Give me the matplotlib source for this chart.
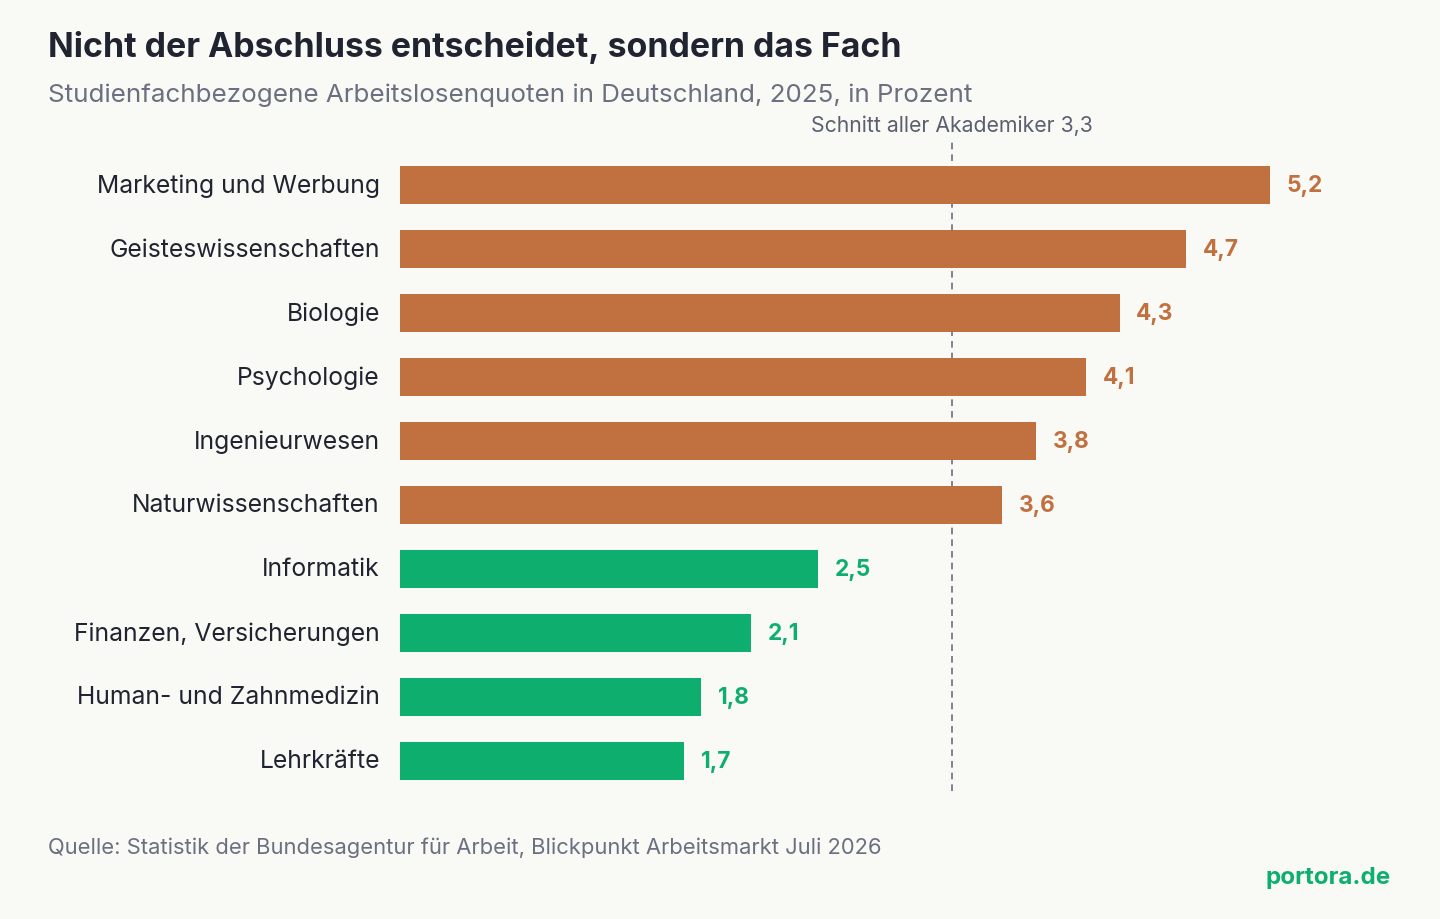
import matplotlib
matplotlib.use("Agg")
import matplotlib.pyplot as plt

categories = ["Marketing und Werbung", "Geisteswissenschaften", "Biologie", "Psychologie",
              "Ingenieurwesen", "Naturwissenschaften", "Informatik",
              "Finanzen, Versicherungen", "Human- und Zahnmedizin", "Lehrkräfte"]
values = [5.2, 4.7, 4.3, 4.1, 3.8, 3.6, 2.5, 2.1, 1.8, 1.7]
average = 3.3

plt.rcParams['font.family'] = ['Inter', 'DejaVu Sans']
BG = "#F9F9F5"
ORANGE = "#C1703F"
GREEN = "#0EAF6E"

fig = plt.figure(figsize=(14.4, 9.2), dpi=100, facecolor=BG)
W, H = 1440, 920
ax = fig.add_axes([400/W, 1-792/H, 1004/W, (792-140)/H])
ax.set_facecolor(BG)
ax.set_xlim(0, 6)
ax.set_ylim(9.47, -0.72)

colors = [ORANGE if v > average else GREEN for v in values]
y = list(range(len(values)))
ax.barh(y, values, height=0.59, color=colors)
for yi, v, c in zip(y, values, colors):
    ax.text(v + 0.1, yi, f"{v:.1f}".replace(".", ","), va="center", ha="left",
            fontsize=16.3, fontweight="bold", color=c)
for yi, cat in zip(y, categories):
    ax.text(-0.12, yi, cat, va="center", ha="right", fontsize=17.8, color="#1F2430")
ax.axvline(average, color="#6B7080", linestyle=(0, (4, 3)), linewidth=1.2, zorder=0)
ax.text(average, -0.78, "Schnitt aller Akademiker 3,3", ha="center", va="bottom",
        fontsize=15.3, color="#5A6070")
ax.axis("off")

fig.text(48/W, 1-48/H, "Nicht der Abschluss entscheidet, sondern das Fach", fontsize=24.4,
         fontweight="bold", color="#1F2430", va="center")
fig.text(48/W, 1-95/H, "Studienfachbezogene Arbeitslosenquoten in Deutschland, 2025, in Prozent",
         fontsize=18.7, color="#6B7080", va="center")
fig.text(48/W, 1-848/H, "Quelle: Statistik der Bundesagentur für Arbeit, Blickpunkt Arbeitsmarkt Juli 2026",
         fontsize=15.8, color="#6B7080", va="center")
fig.text(1391/W, 1-878/H, "portora.de", fontsize=17.4, fontweight="bold", color=GREEN,
         va="center", ha="right")

fig.savefig("out.png", dpi=100, facecolor=BG)
